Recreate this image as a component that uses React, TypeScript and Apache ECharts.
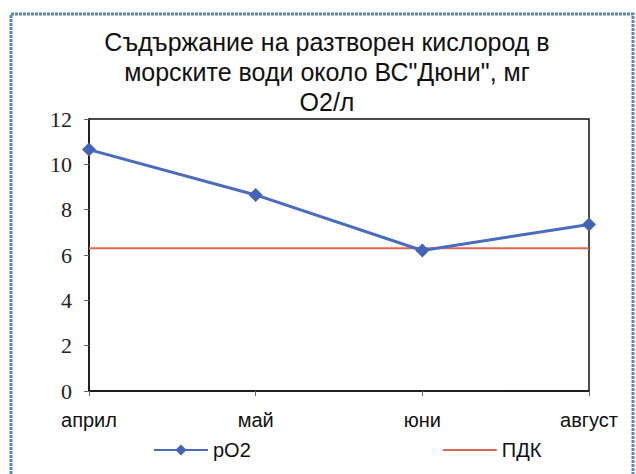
import React, { useEffect, useRef } from "react";
import * as echarts from "echarts";

const categories = ["април", "май", "юни", "август"];
const po2Values = [10.65, 8.65, 6.2, 7.35];
const pdkValues = [6.3, 6.3, 6.3, 6.3];
const titleText = 'Съдържание на разтворен кислород в\nморските води около ВС"Дюни", мг\nО2/л';

export default function App() {
  const ref = useRef<HTMLDivElement>(null);
  useEffect(() => {
    document.body.style.margin = "0";
    const chart = echarts.init(ref.current!, null, { renderer: "svg" });
    chart.setOption({
      animation: false,
      backgroundColor: "#ffffff",
      title: {
        text: titleText,
        left: 322,
        textAlign: "center",
        top: 22,
        textStyle: {
          fontFamily: "Liberation Sans",
          fontSize: 25,
          fontWeight: "normal",
          color: "#111",
          lineHeight: 30,
        },
      },
      graphic: [
        {
          type: "rect",
          shape: { x: 11, y: 14, width: 622, height: 470 },
          style: { fill: "none", stroke: "#5b84c9", lineWidth: 3, lineDash: [3, 1] },
          silent: true,
        },
      ],
      grid: {
        left: 89,
        right: 47,
        top: 119,
        bottom: 83,
        show: true,
        borderColor: "#111",
        borderWidth: 1.5,
        backgroundColor: "transparent",
      },
      legend: {
        left: 148,
        top: 435,
        itemWidth: 54,
        itemHeight: 14,
        itemGap: 191,
        textStyle: { fontFamily: "Liberation Sans", fontSize: 20, color: "#111" },
        data: [
          { name: "pO2" },
          { name: "ПДК", itemStyle: { color: "rgba(0,0,0,0)", borderWidth: 0, opacity: 0 } },
        ],
      },
      xAxis: {
        type: "category",
        data: categories,
        boundaryGap: false,
        axisLine: { lineStyle: { color: "#111", width: 1.5 } },
        axisTick: { show: true, length: 5, lineStyle: { color: "#666" } },
        axisLabel: {
          fontFamily: "Liberation Sans",
          fontSize: 20,
          color: "#111",
          margin: 19,
        },
        splitLine: { show: false },
      },
      yAxis: {
        type: "value",
        min: 0,
        max: 12,
        interval: 2,
        axisLine: { show: true, lineStyle: { color: "#111", width: 1.5 } },
        axisTick: { show: true, length: 5, lineStyle: { color: "#666" } },
        axisLabel: {
          fontFamily: "Liberation Serif",
          fontSize: 22,
          color: "#222",
          margin: 17,
        },
        splitLine: { show: false },
      },
      series: [
        {
          name: "pO2",
          type: "line",
          data: po2Values,
          symbol: "diamond",
          symbolSize: 14,
          lineStyle: { color: "#4a6cc0", width: 3 },
          itemStyle: { color: "#4264b4" },
          z: 3,
        },
        {
          name: "ПДК",
          type: "line",
          data: pdkValues,
          symbol: "none",
          showSymbol: false,
          lineStyle: { color: "#e2674f", width: 2 },
          itemStyle: { color: "#e2674f" },
          z: 2,
        },
      ],
    });
    return () => chart.dispose();
  }, []);
  return <div ref={ref} style={{ width: 636, height: 474, position: "absolute", left: 0, top: 0 }} />;
}
